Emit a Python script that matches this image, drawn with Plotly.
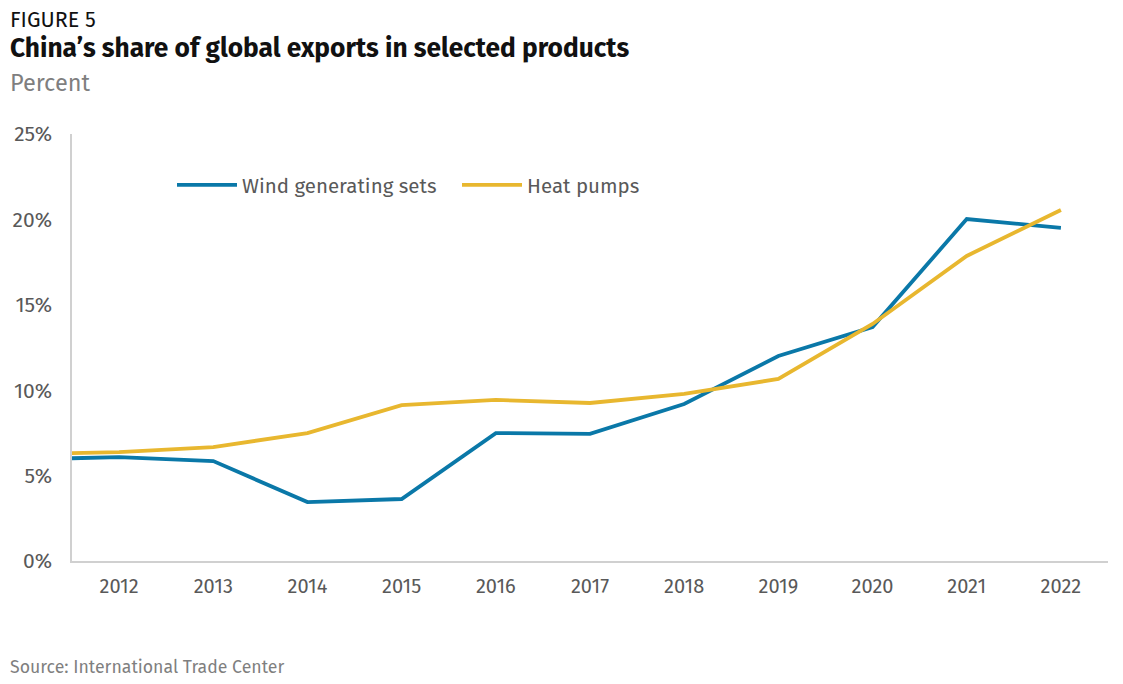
import plotly.graph_objects as go

years = [2011, 2012, 2013, 2014, 2015, 2016, 2017, 2018, 2019, 2020, 2021, 2022]
wind = [5.95, 6.08, 5.85, 3.45, 3.63, 7.49, 7.44, 9.19, 12.0, 13.7, 20.02, 19.5]
heat = [6.25, 6.38, 6.67, 7.49, 9.13, 9.43, 9.25, 9.78, 10.66, 13.88, 17.86, 20.55]
y_ticks = [0, 5, 10, 15, 20, 25]
y_labels = ["0%", "5%", "10%", "15%", "20%", "25%"]
x_ticks = list(range(2012, 2023))

FONT = "Fira Sans, Roboto, Noto Sans, sans-serif"
GRAY = "#595959"
W, H = 1123, 684
ML, MR, MT, MB = 72, 15, 134, 123

fig = go.Figure()
fig.add_trace(go.Scatter(x=years, y=wind, mode="lines", name="Wind generating sets",
                         line=dict(color="#0A78A8", width=3.8)))
fig.add_trace(go.Scatter(x=years, y=heat, mode="lines", name="Heat pumps",
                         line=dict(color="#E8B72F", width=3.8)))


def px(xp, yp):
    return (xp - ML) / (W - ML - MR), (H - MB - yp) / (H - MT - MB)


anns = []
x0, y0 = px(8, 20)
anns.append(dict(text="FIGURE 5", x=x0, y=y0, xref="paper", yref="paper", xanchor="left",
                 yanchor="middle", showarrow=False, font=dict(size=21.5, color="#111111")))
x0, y0 = px(8, 48)
anns.append(dict(text="<b>China’s share of global exports in selected products</b>", x=x0, y=y0,
                 xref="paper", yref="paper", xanchor="left", yanchor="middle", showarrow=False,
                 font=dict(size=26.3, color="#111111")))
x0, y0 = px(8, 83)
anns.append(dict(text="Percent", x=x0, y=y0, xref="paper", yref="paper", xanchor="left",
                 yanchor="middle", showarrow=False, font=dict(size=23.5, color="#7F7F7F")))
x0, y0 = px(8, 667)
anns.append(dict(text="Source: International Trade Center", x=x0, y=y0, xref="paper", yref="paper",
                 xanchor="left", yanchor="middle", showarrow=False,
                 font=dict(size=17.7, color="#7F7F7F")))

lx, ly = px(172, 185)

fig.update_layout(
    width=W, height=H,
    margin=dict(l=ML, r=MR, t=MT, b=MB),
    paper_bgcolor="white", plot_bgcolor="white",
    font=dict(family=FONT, color=GRAY, size=18),
    showlegend=True,
    legend=dict(orientation="h", x=lx, y=ly, xanchor="left", yanchor="middle",
                font=dict(size=20.5, color=GRAY), itemwidth=60, traceorder="normal",
                entrywidth=210, entrywidthmode="pixels",
                bgcolor="rgba(0,0,0,0)"),
    xaxis=dict(range=[2011.5, 2022.5], tickmode="array", tickvals=x_ticks,
               ticktext=[str(x) for x in x_ticks], showgrid=False, zeroline=False,
               showline=True, linecolor="#D0D0D0", linewidth=1.5, ticks="",
               ticklabelstandoff=6, tickfont=dict(size=20, color=GRAY)),
    yaxis=dict(range=[0, 25], tickmode="array", tickvals=y_ticks, ticktext=y_labels,
               showgrid=False, zeroline=False, showline=True, linecolor="#D0D0D0",
               linewidth=1.5, ticks="", ticklabelstandoff=14,
               tickfont=dict(size=21, color=GRAY)),
    annotations=anns,
)

fig.write_html("out.html")
